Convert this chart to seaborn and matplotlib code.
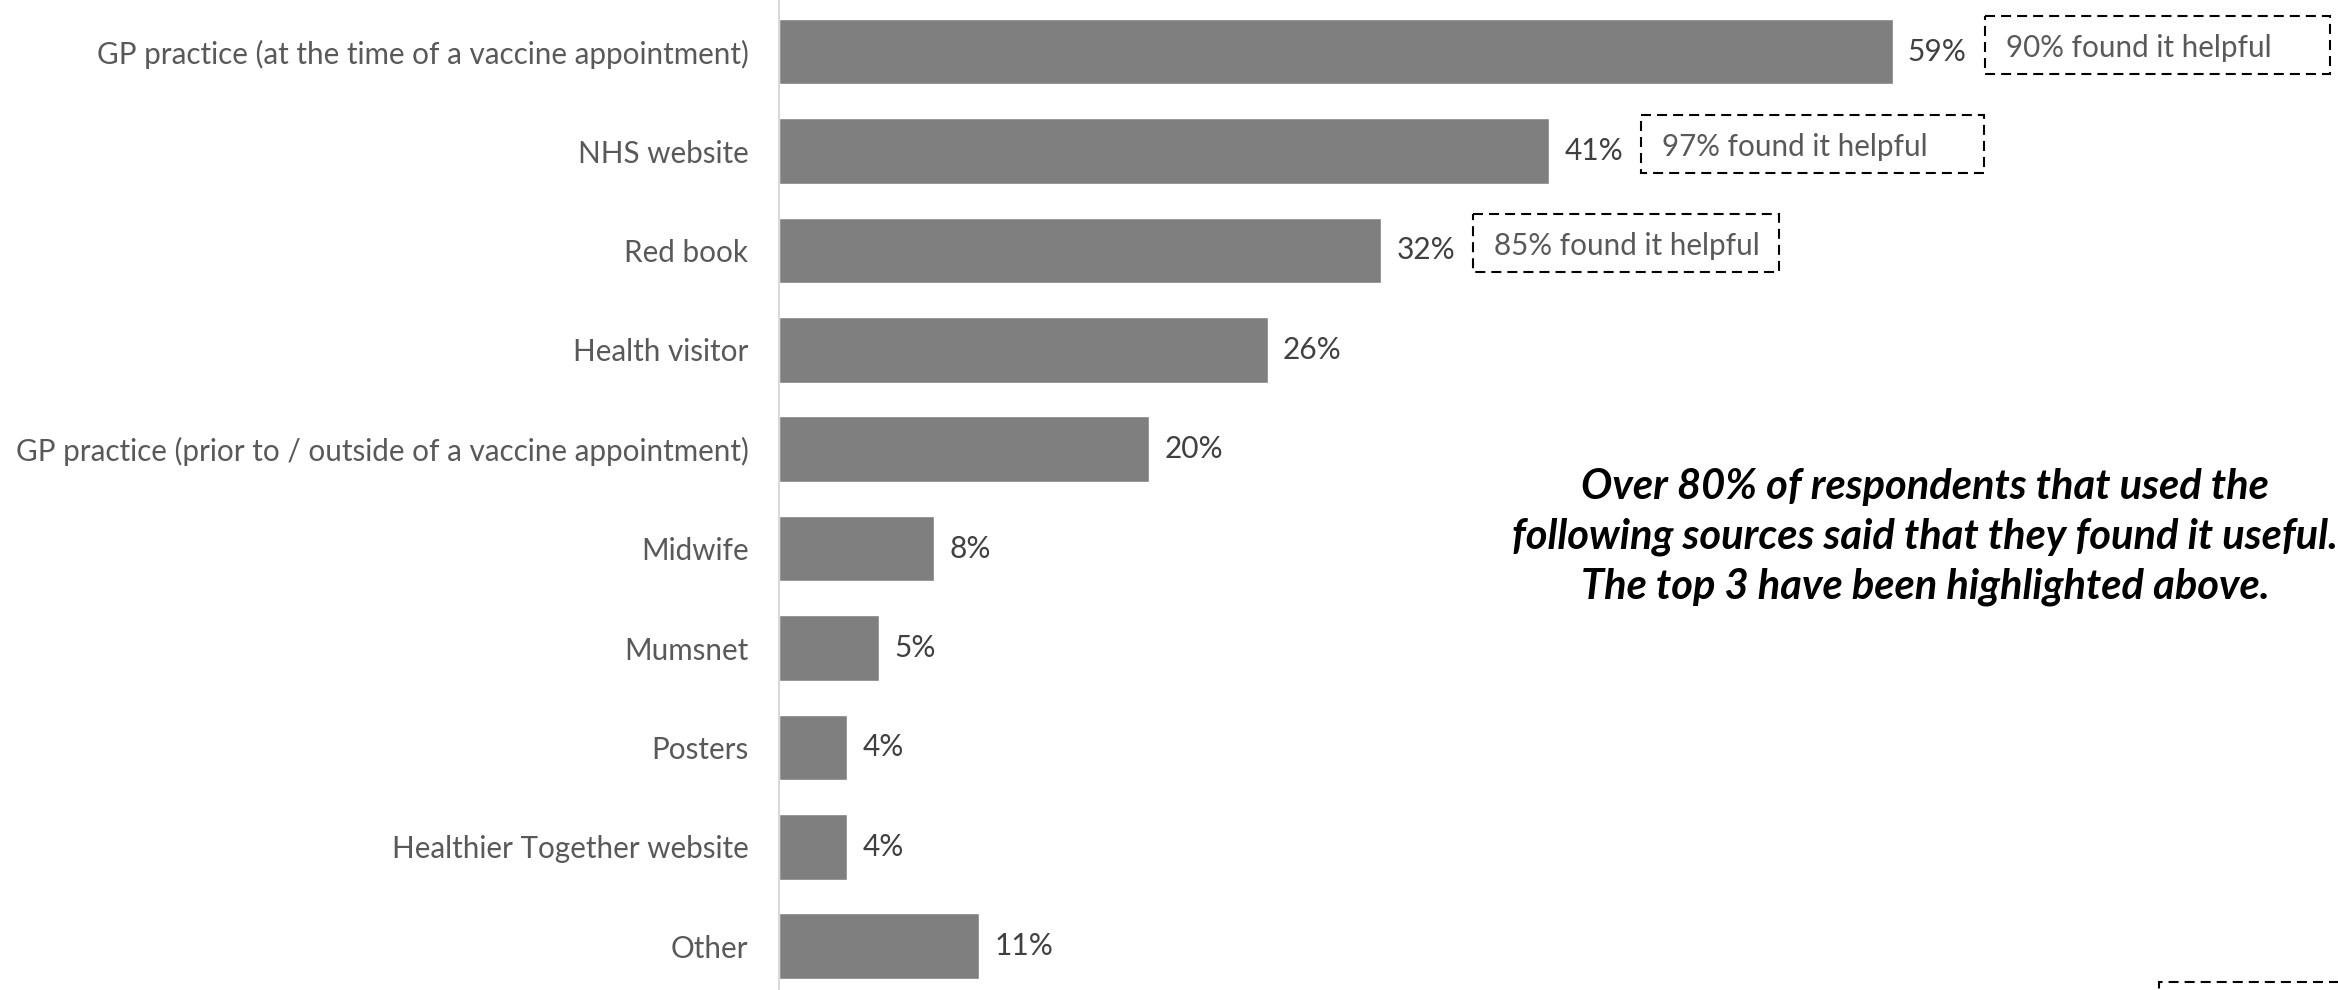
import matplotlib
matplotlib.use("Agg")
import matplotlib.pyplot as plt
import matplotlib.patches as mpatches
import seaborn as sns
import pandas as pd

categories = [
    "GP practice (at the time of a vaccine appointment)",
    "NHS website",
    "Red book",
    "Health visitor",
    "GP practice (prior to / outside of a vaccine appointment)",
    "Midwife",
    "Mumsnet",
    "Posters",
    "Healthier Together website",
    "Other",
]
values = [59.0, 40.8, 31.9, 25.9, 19.6, 8.2, 5.3, 3.6, 3.6, 10.6]
helpful_labels = ["90% found it helpful", "97% found it helpful", "85% found it helpful"]
note_lines = [
    "Over 80% of respondents that used the",
    "following sources said that they found it useful.",
    "The top 3 have been highlighted above.",
]

sns.set_theme(style="white")
plt.rcParams["font.family"] = ["Lato", "DejaVu Sans"]

W, H = 2338, 990
fig = plt.figure(figsize=(W / 100, H / 100), dpi=100)
left_px = 779
ax = fig.add_axes([left_px / W, 0, 1 - left_px / W, 1])

df = pd.DataFrame({"source": categories, "pct": values})
sns.barplot(data=df, x="pct", y="source", orient="h", color="#7f7f7f",
            saturation=1, width=0.66, ax=ax)

xmax = 82.6
ax.set_xlim(0, xmax)
ax.set_ylim(9.44, -0.52)
px_x = (W - left_px) / xmax
px_y = H / (9.44 + 0.52)

for s in ["top", "right", "bottom"]:
    ax.spines[s].set_visible(False)
ax.spines["left"].set_color("#d9d9d9")
ax.spines["left"].set_linewidth(1.5)
ax.set_xticks([])
ax.set_xlabel("")
ax.set_ylabel("")
ax.tick_params(axis="y", length=0, pad=22, labelsize=21.3, labelcolor="#595959")

ax.bar_label(ax.containers[0], labels=[f"{v:.0f}%" for v in values], padding=11,
             fontsize=21.5, color="#404040")

box_widths = [345, 343, 306]
for i, lab in enumerate(helpful_labels):
    x0 = values[i] + 92 / px_x
    w = box_widths[i] / px_x
    h = 58 / px_y
    yc = i - 7 / px_y
    rect = mpatches.Rectangle((x0, yc - h / 2), w, h, fill=False, edgecolor="black",
                              linewidth=1.5, linestyle=(0, (4.8, 2.9)), clip_on=False)
    ax.add_patch(rect)
    ax.text(x0 + 21 / px_x, yc + 3 / px_y, lab, ha="left", va="center", fontsize=21.3,
            color="#595959")

# partially visible box at bottom right
fig.patches.append(mpatches.Rectangle((2159 / W, -50 / H), 300 / W, 58 / H,
                                      transform=fig.transFigure, fill=False,
                                      edgecolor="black", linewidth=1.5,
                                      linestyle=(0, (4.8, 2.9))))

for j, line in enumerate(note_lines):
    fig.text(1925 / W, 1 - (487 + 50 * j) / H, line, ha="center", va="center",
             fontsize=30, fontweight="bold", fontstyle="italic", color="black")

fig.savefig("out.png", dpi=100)
